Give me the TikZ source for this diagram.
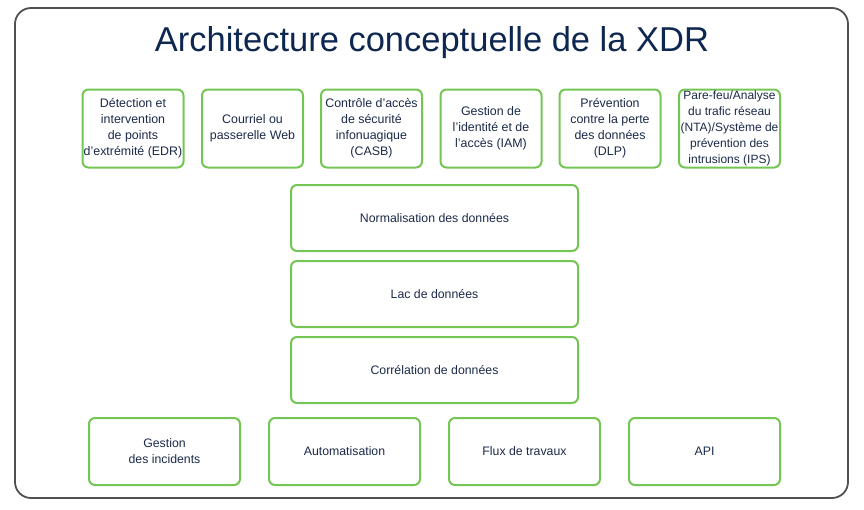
\documentclass[tikz,border=0pt]{standalone}
\usepackage{fontspec}
\setmainfont{Liberation Sans}
\definecolor{navy}{HTML}{1B2A4A}
\definecolor{tnavy}{HTML}{0D2750}
\definecolor{grn}{HTML}{74C654}
\definecolor{frame}{HTML}{505050}
\begin{document}
\begin{tikzpicture}[x=1pt,y=-1pt,
  gbox/.style={draw=grn, line width=2pt, rounded corners=6pt, fill=white, text=navy, align=center, font=\fontsize{12.3}{16}\selectfont},
  tbox/.style={gbox, minimum width=101pt, minimum height=78pt, inner sep=0.3pt, font=\fontsize{12.4}{16}\selectfont},
]
\useasboundingbox (0,0) rectangle (864,509);
\draw[frame, line width=1.8pt, rounded corners=16pt] (15,8) rectangle (848,498);
\node[text=tnavy, font=\fontsize{34.5}{38}\selectfont, anchor=base] (title) at (432,51.5) {Architecture conceptuelle de la XDR};
% top row
\node[tbox] (edr) at (133,128.5) {Détection et\\intervention\\de points\\d’extrémité (EDR)};
\node[tbox] (mail) at (252.5,128.5) {Courriel ou\\passerelle Web};
\node[tbox] (casb) at (371.5,128.5) {Contrôle d’accès\\de sécurité\\infonuagique\\(CASB)};
\node[tbox] (iam) at (491,128.5) {Gestion de\\l’identité et de\\l’accès (IAM)};
\node[tbox] (dlp) at (610,128.5) {Prévention\\contre la perte\\des données\\(DLP)};
\node[tbox, font=\fontsize{12}{16}\selectfont] (ips) at (729.5,128.5) {Pare-feu/Analyse\\du trafic réseau\\(NTA)/Système de\\prévention des\\intrusions (IPS)};
% middle
\node[gbox, minimum width=287pt, minimum height=66pt] (norm) at (434.5,218) {Normalisation des données};
\node[gbox, minimum width=287pt, minimum height=66pt] (lac) at (434.5,294) {Lac de données};
\node[gbox, minimum width=287pt, minimum height=66pt] (corr) at (434.5,370) {Corrélation de données};
% bottom
\node[gbox, minimum width=151pt, minimum height=67pt] (inc) at (164.5,451.5) {Gestion\\des incidents};
\node[gbox, minimum width=151pt, minimum height=67pt] (auto) at (344.5,451.5) {Automatisation};
\node[gbox, minimum width=151pt, minimum height=67pt] (flux) at (524.5,451.5) {Flux de travaux};
\node[gbox, minimum width=151pt, minimum height=67pt] (api) at (704.5,451.5) {API};
\end{tikzpicture}
\end{document}
